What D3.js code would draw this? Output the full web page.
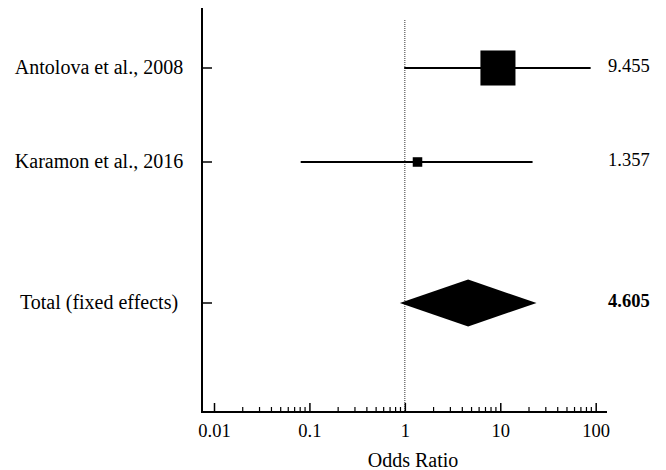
<!DOCTYPE html>
<html>
<head>
<meta charset="utf-8">
<script src="https://cdn.jsdelivr.net/npm/d3@7"></script>
<style>
  body { margin: 0; background: #fff; }
  text { font-family: "Liberation Serif", "Times New Roman", serif; fill: #000; }
</style>
</head>
<body>
<svg id="chart" width="666" height="470"></svg>
<script>
// Study-level odds ratios with 95% confidence intervals
const studies = ["Antolova et al., 2008", "Karamon et al., 2016"];
const oddsRatios = [9.455, 1.357];
const lowerCI = [0.985, 0.081];
const upperCI = [88.5, 21.8];
const weights = [93.1, 6.9];

// Pooled estimate (fixed effects)
const pooledLabel = "Total (fixed effects)";
const pooledOR = 4.605;
const pooledLower = 0.886;
const pooledUpper = 24.0;

// Axis
const tickValues = [0.01, 0.1, 1, 10, 100];
const tickLabels = ["0.01", "0.1", "1", "10", "100"];
const xTitle = "Odds Ratio";

const svg = d3.select("#chart");
const fontSize = 20;

const plotLeft = 202, plotRight = 607, plotTop = 8, plotBottom = 412;

const x = d3.scaleLog().domain([0.01, 100]).range([214, 595.7]);
// row index -> vertical position (pooled row sits 1.5 rows below the last study)
const y = d3.scaleLinear().domain([0, 1]).range([68, 162]);
const rowIdx = studies.map((d, i) => i);
const pooledRow = studies.length + 0.5;

const boxSide = d3.scaleSqrt().domain([0, 100]).range([0, 36.3]);

// reference line at OR = 1
svg.append("line")
  .attr("x1", x(1)).attr("x2", x(1))
  .attr("y1", 20).attr("y2", plotBottom)
  .attr("stroke", "#333").attr("stroke-width", 1)
  .attr("stroke-dasharray", "1,1");

// x axis (ticks point up into the plot)
const xAxis = d3.axisBottom(x)
  .tickValues(tickValues)
  .tickSize(-9)
  .tickPadding(12)
  .tickFormat((d, i) => tickLabels[i]);

const gx = svg.append("g")
  .attr("transform", `translate(0,${plotBottom})`)
  .call(xAxis);
gx.select(".domain").remove();
gx.selectAll(".tick line").attr("stroke", "#000").attr("stroke-width", 1.5);
gx.selectAll(".tick text")
  .style("font-family", '"Liberation Serif", "Times New Roman", serif')
  .style("font-size", "18.5px").attr("fill", "#000");

// minor ticks at 2..9 of each decade
const minor = x.ticks().filter(v => !tickValues.some(t => Math.abs(t - v) / t < 1e-9));
gx.selectAll("line.minor").data(minor).join("line")
  .attr("class", "minor")
  .attr("x1", d => x(d)).attr("x2", d => x(d))
  .attr("y1", 0).attr("y2", -5)
  .attr("stroke", "#000").attr("stroke-width", 1.2);

// axis lines
svg.append("line")
  .attr("x1", plotLeft).attr("x2", plotRight)
  .attr("y1", plotBottom).attr("y2", plotBottom)
  .attr("stroke", "#000").attr("stroke-width", 2);
svg.append("line")
  .attr("x1", plotLeft).attr("x2", plotLeft)
  .attr("y1", plotTop).attr("y2", plotBottom + 1)
  .attr("stroke", "#000").attr("stroke-width", 2);

// y ticks
const allRows = rowIdx.concat([pooledRow]);
svg.selectAll("line.ytick").data(allRows).join("line")
  .attr("class", "ytick")
  .attr("x1", plotLeft).attr("x2", plotLeft + 10)
  .attr("y1", d => y(d)).attr("y2", d => y(d))
  .attr("stroke", "#000").attr("stroke-width", 1.5);

// row labels
const labels = studies.concat([pooledLabel]);
svg.selectAll("text.rowlabel").data(labels).join("text")
  .attr("class", "rowlabel")
  .attr("x", 99)
  .attr("y", (d, i) => y(allRows[i]) + 6)
  .attr("text-anchor", "middle")
  .style("font-size", fontSize + "px")
  .text(d => d);

// confidence interval lines
svg.selectAll("line.ci").data(rowIdx).join("line")
  .attr("class", "ci")
  .attr("x1", i => x(lowerCI[i])).attr("x2", i => x(upperCI[i]))
  .attr("y1", i => y(i)).attr("y2", i => y(i))
  .attr("stroke", "#000").attr("stroke-width", 2);

// point estimates, box size from study weight
svg.selectAll("rect.est").data(rowIdx).join("rect")
  .attr("class", "est")
  .attr("x", i => x(oddsRatios[i]) - boxSide(weights[i]) / 2)
  .attr("y", i => y(i) - boxSide(weights[i]) / 2)
  .attr("width", i => boxSide(weights[i]))
  .attr("height", i => boxSide(weights[i]))
  .attr("fill", "#000");

// pooled diamond
const py = y(pooledRow), half = 23.5;
svg.append("path")
  .attr("d", `M${x(pooledLower)},${py} L${x(pooledOR)},${py - half} L${x(pooledUpper)},${py} L${x(pooledOR)},${py + half} Z`)
  .attr("fill", "#000");

// value labels
const fmt = d3.format(".3f");
svg.selectAll("text.val").data(rowIdx).join("text")
  .attr("class", "val")
  .attr("x", 608).attr("y", i => y(i) + 4)
  .style("font-size", "18.5px")
  .text(i => fmt(oddsRatios[i]));
svg.append("text")
  .attr("x", 608).attr("y", py + 4)
  .style("font-size", "18.5px").style("font-weight", "bold")
  .text(fmt(pooledOR));

// axis title
svg.append("text")
  .attr("x", 413).attr("y", 467)
  .attr("text-anchor", "middle")
  .style("font-size", fontSize + "px")
  .text(xTitle);
</script>
</body>
</html>
